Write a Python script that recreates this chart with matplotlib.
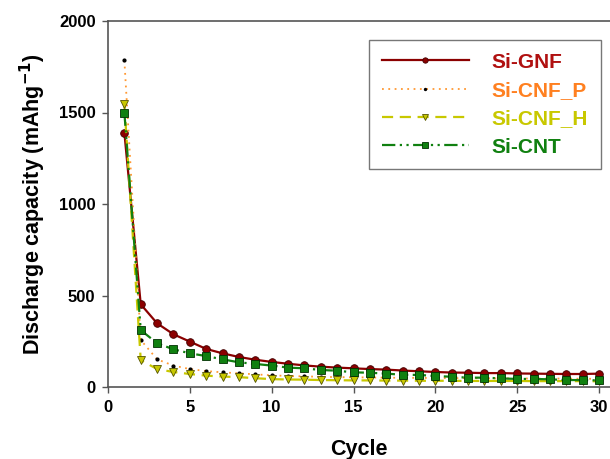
import matplotlib.pyplot as plt

cycles = list(range(1, 31))
si_gnf = [1390, 452, 348, 288, 248, 208, 184, 164, 149, 137, 127, 118, 111, 106, 102,
          98, 95, 90, 86, 82, 79, 78, 76, 76, 74, 73, 72, 71, 71, 73]
si_cnf_p = [1785, 257, 151, 117, 98, 87, 80, 75, 69, 64, 60, 58, 56, 54, 53,
            52, 51, 50, 50, 49, 49, 48, 48, 47, 47, 46, 46, 46, 45, 45]
si_cnf_h = [1545, 147, 98, 82, 71, 62, 57, 54, 48, 43, 41, 40, 38, 37, 36,
            36, 35, 35, 34, 34, 34, 33, 33, 33, 33, 32, 32, 32, 32, 31]
si_cnt = [1500, 311, 239, 206, 184, 169, 151, 135, 126, 117, 106, 102, 93, 89, 80,
          78, 73, 67, 66, 60, 56, 51, 51, 47, 44, 44, 42, 38, 38, 36]

labels = ["Si-GNF", "Si-CNF_P", "Si-CNF_H", "Si-CNT"]
text_colors = ["#b01010", "#ff8020", "#c8c800", "#108010"]

plt.rcParams["font.family"] = ["Liberation Sans", "DejaVu Sans"]
plt.rcParams["font.weight"] = "bold"

fig = plt.figure(figsize=(6.1, 4.59), dpi=100)
ax = fig.add_axes([108 / 610, 72 / 459, 1 - 108 / 610, 366 / 459])

ax.plot(cycles, si_gnf, color="#8b0000", linewidth=1.6, marker="o", markersize=5.5,
        markerfacecolor="#8b0000", markeredgecolor="#400000", markeredgewidth=0.6, label=labels[0])
ax.plot(cycles, si_cnf_p, color="#ff9933", linewidth=1.3, linestyle=(0, (1, 2.5)), marker="o",
        markersize=2, markerfacecolor="black", markeredgecolor="black", label=labels[1])
ax.plot(cycles, si_cnf_h, color="#c8c800", linewidth=1.6, linestyle=(0, (5, 3)), marker="v",
        markersize=6, markerfacecolor="#c8c800", markeredgecolor="#555500", markeredgewidth=0.6,
        label=labels[2])
ax.plot(cycles, si_cnt, color="#108010", linewidth=1.6, linestyle=(0, (6, 2, 1, 2, 1, 2)), marker="s",
        markersize=5.5, markerfacecolor="#108010", markeredgecolor="#003000", markeredgewidth=0.6,
        label=labels[3])

ax.set_xlim(0, 30.67)
ax.set_ylim(0, 2000)
ax.set_xticks(range(0, 31, 5))
ax.set_yticks(range(0, 2001, 500))
ax.tick_params(direction="out", length=4, width=1, colors="#555555", labelcolor="black",
               labelsize=12, pad=5)
for lab in ax.get_xticklabels() + ax.get_yticklabels():
    lab.set_fontweight("bold")
ax.spines["right"].set_visible(False)
for s in ["left", "bottom", "top"]:
    ax.spines[s].set_color("#555555")
    ax.spines[s].set_linewidth(1.2)

ax.set_xlabel("Cycle", fontsize=15.5, fontweight="bold", labelpad=18)
ax.set_ylabel("Discharge capacity (mAhg$\\mathbf{^{-1}}$)", fontsize=15.5, fontweight="bold",
              labelpad=8)

leg = ax.legend(loc="upper left", fontsize=15, frameon=True, fancybox=False,
                edgecolor="#555555", handlelength=4.2, borderpad=0.6, labelspacing=0.45,
                handletextpad=1.1, borderaxespad=0, markerscale=0.7)
leg.set_bbox_to_anchor((369 / 610, 1 - 40 / 459), transform=fig.transFigure)
leg.get_frame().set_linewidth(1.0)
for txt, c in zip(leg.get_texts(), text_colors):
    txt.set_color(c)
    txt.set_fontweight("bold")

fig.savefig("out.png", dpi=100)
